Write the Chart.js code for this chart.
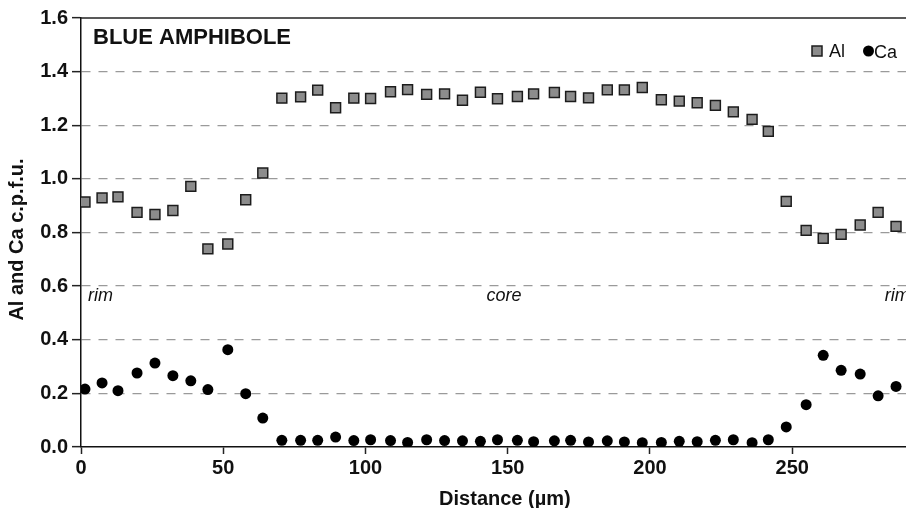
<!DOCTYPE html>
<html><head><meta charset="utf-8">
<script src="https://cdn.jsdelivr.net/npm/chart.js@4/dist/chart.umd.min.js"></script>
<style>html,body{margin:0;padding:0;background:#fff}canvas{display:block}</style>
</head><body>
<canvas id="c" width="906" height="508"></canvas>
<script>
// ---- data ----
const distance = [1.4, 7.4, 13.0, 19.7, 26.0, 32.3, 38.6, 44.6, 51.6, 57.9,
  63.9, 70.6, 77.2, 83.2, 89.5, 95.9, 101.8, 108.8, 114.8, 121.5,
  127.8, 134.1, 140.4, 146.4, 153.4, 159.1, 166.4, 172.1, 178.4, 185.0,
  191.0, 197.3, 204.0, 210.3, 216.6, 223.0, 229.3, 235.9, 241.6, 247.9,
  254.9, 260.9, 267.2, 273.9, 280.2, 286.5];
const al = [0.914, 0.929, 0.933, 0.875, 0.867, 0.882, 0.972, 0.739, 0.757, 0.922,
  1.022, 1.301, 1.306, 1.331, 1.265, 1.301, 1.300, 1.325, 1.333, 1.315,
  1.317, 1.293, 1.323, 1.299, 1.307, 1.317, 1.322, 1.307, 1.302, 1.332,
  1.332, 1.341, 1.295, 1.290, 1.284, 1.274, 1.250, 1.222, 1.177, 0.916,
  0.808, 0.778, 0.793, 0.828, 0.875, 0.823];
const ca = [0.216, 0.239, 0.210, 0.276, 0.313, 0.266, 0.247, 0.214, 0.363, 0.199,
  0.108, 0.025, 0.025, 0.025, 0.037, 0.024, 0.027, 0.024, 0.017, 0.027,
  0.024, 0.023, 0.021, 0.027, 0.025, 0.020, 0.023, 0.025, 0.019, 0.023,
  0.019, 0.016, 0.017, 0.021, 0.020, 0.025, 0.027, 0.016, 0.027, 0.075,
  0.158, 0.342, 0.286, 0.272, 0.191, 0.226];
const seriesNames = ['Al', 'Ca'];
const xTickValues = [0, 50, 100, 150, 200, 250];
const yTickValues = [0.0, 0.2, 0.4, 0.6, 0.8, 1.0, 1.2, 1.4, 1.6];
const chartTitle = 'BLUE AMPHIBOLE';
const xTitle = 'Distance (\u00b5m)';
const yTitle = 'Al and Ca c.p.f.u.';
const zoneLabels = [{text: 'rim', x: 2.5}, {text: 'core', x: 142.5}, {text: 'rim', x: 282.5}];
const zoneLabelY = 0.545;

// ---- chart ----
const FONT = '"Liberation Sans", Arial, Helvetica, sans-serif';
const AL_FILL = '#8c8c8c', AL_BORDER = '#1c1c1c', CA_FILL = '#000000';

const annotate = {
  id: 'annotate',
  afterDraw(chart) {
    const {ctx, chartArea: a, scales: {x, y}} = chart;
    ctx.save();
    // top frame line
    ctx.strokeStyle = '#222'; ctx.lineWidth = 1.5;
    ctx.beginPath(); ctx.moveTo(a.left, a.top); ctx.lineTo(a.right, a.top); ctx.stroke();
    // chart title
    ctx.fillStyle = '#111';
    ctx.font = 'bold 22px ' + FONT;
    ctx.textAlign = 'left'; ctx.textBaseline = 'alphabetic';
    ctx.fillText(chartTitle, a.left + 12, a.top + 26);
    // zone labels
    ctx.font = 'italic 18px ' + FONT;
    zoneLabels.forEach(z => ctx.fillText(z.text, x.getPixelForValue(z.x), y.getPixelForValue(zoneLabelY)));
    // axis titles
    ctx.font = 'bold 20px ' + FONT;
    ctx.textAlign = 'center'; ctx.textBaseline = 'middle';
    ctx.fillText(xTitle, x.getPixelForValue(149), 499);
    ctx.save();
    ctx.translate(17, (a.top + a.bottom) / 2 + 7);
    ctx.rotate(-Math.PI / 2);
    ctx.fillText(yTitle, 0, 0);
    ctx.restore();
    // legend
    const ly = a.top + 33;
    const sx = a.right - 89;
    ctx.fillStyle = AL_FILL; ctx.strokeStyle = AL_BORDER; ctx.lineWidth = 1.5;
    ctx.fillRect(sx - 5, ly - 5, 10, 10); ctx.strokeRect(sx - 5, ly - 5, 10, 10);
    ctx.fillStyle = '#111'; ctx.font = '18px ' + FONT;
    ctx.textAlign = 'left'; ctx.textBaseline = 'middle';
    ctx.fillText(seriesNames[0], sx + 12, ly + 1);
    const cx = a.right - 37.5;
    ctx.fillStyle = CA_FILL;
    ctx.beginPath(); ctx.arc(cx, ly, 5.5, 0, Math.PI * 2); ctx.fill();
    ctx.fillStyle = '#111';
    ctx.fillText(seriesNames[1], cx + 5.5, ly + 2);
    ctx.restore();
  }
};

new Chart(document.getElementById('c'), {
  type: 'scatter',
  data: {
    datasets: [
      {label: seriesNames[0], data: distance.map((d, i) => ({x: d, y: al[i]})),
       pointStyle: 'rect', pointRadius: 7, backgroundColor: AL_FILL, borderColor: AL_BORDER, borderWidth: 1.5, order: 1},
      {label: seriesNames[1], data: distance.map((d, i) => ({x: d, y: ca[i]})),
       pointStyle: 'circle', pointRadius: 5.5, backgroundColor: CA_FILL, borderColor: CA_FILL, borderWidth: 0, order: 2}
    ]
  },
  options: {
    responsive: false, animation: false, devicePixelRatio: 1,
    layout: {autoPadding: false, padding: {top: 18, right: 0, left: 0, bottom: 0}},
    plugins: {legend: {display: false}, tooltip: {enabled: false}},
    scales: {
      x: {
        type: 'linear', min: 0, max: 290,
        afterFit(s) { s.height = 61; },
        afterBuildTicks(s) { s.ticks = xTickValues.map(v => ({value: v})); },
        ticks: {font: {family: FONT, size: 20, weight: 'bold'}, color: '#111', padding: 2, maxRotation: 0, includeBounds: false},
        grid: {drawOnChartArea: false, drawTicks: true, tickLength: 7, tickColor: '#222', tickWidth: 1.5},
        border: {display: true, color: '#111', width: 1.5}
      },
      y: {
        min: 0, max: 1.6,
        afterFit(s) { s.width = 81; },
        afterBuildTicks(s) { s.ticks = yTickValues.map(v => ({value: v})); },
        ticks: {font: {family: FONT, size: 20, weight: 'bold'}, color: '#111', padding: 4,
                callback: v => Number(v).toFixed(1)},
        grid: {
          color: c => (c.tick && (Math.abs(c.tick.value) < 1e-9 || Math.abs(c.tick.value - 1.6) < 1e-9)) ? 'rgba(0,0,0,0)' : '#9a9a9a',
          lineWidth: 1.3, drawTicks: true, tickLength: 9, tickColor: '#222', tickWidth: 1.5, tickBorderDash: []
        },
        border: {display: true, color: '#111', width: 1.5, dash: [9, 8]}
      }
    }
  },
  plugins: [annotate]
});
</script>
</body></html>
